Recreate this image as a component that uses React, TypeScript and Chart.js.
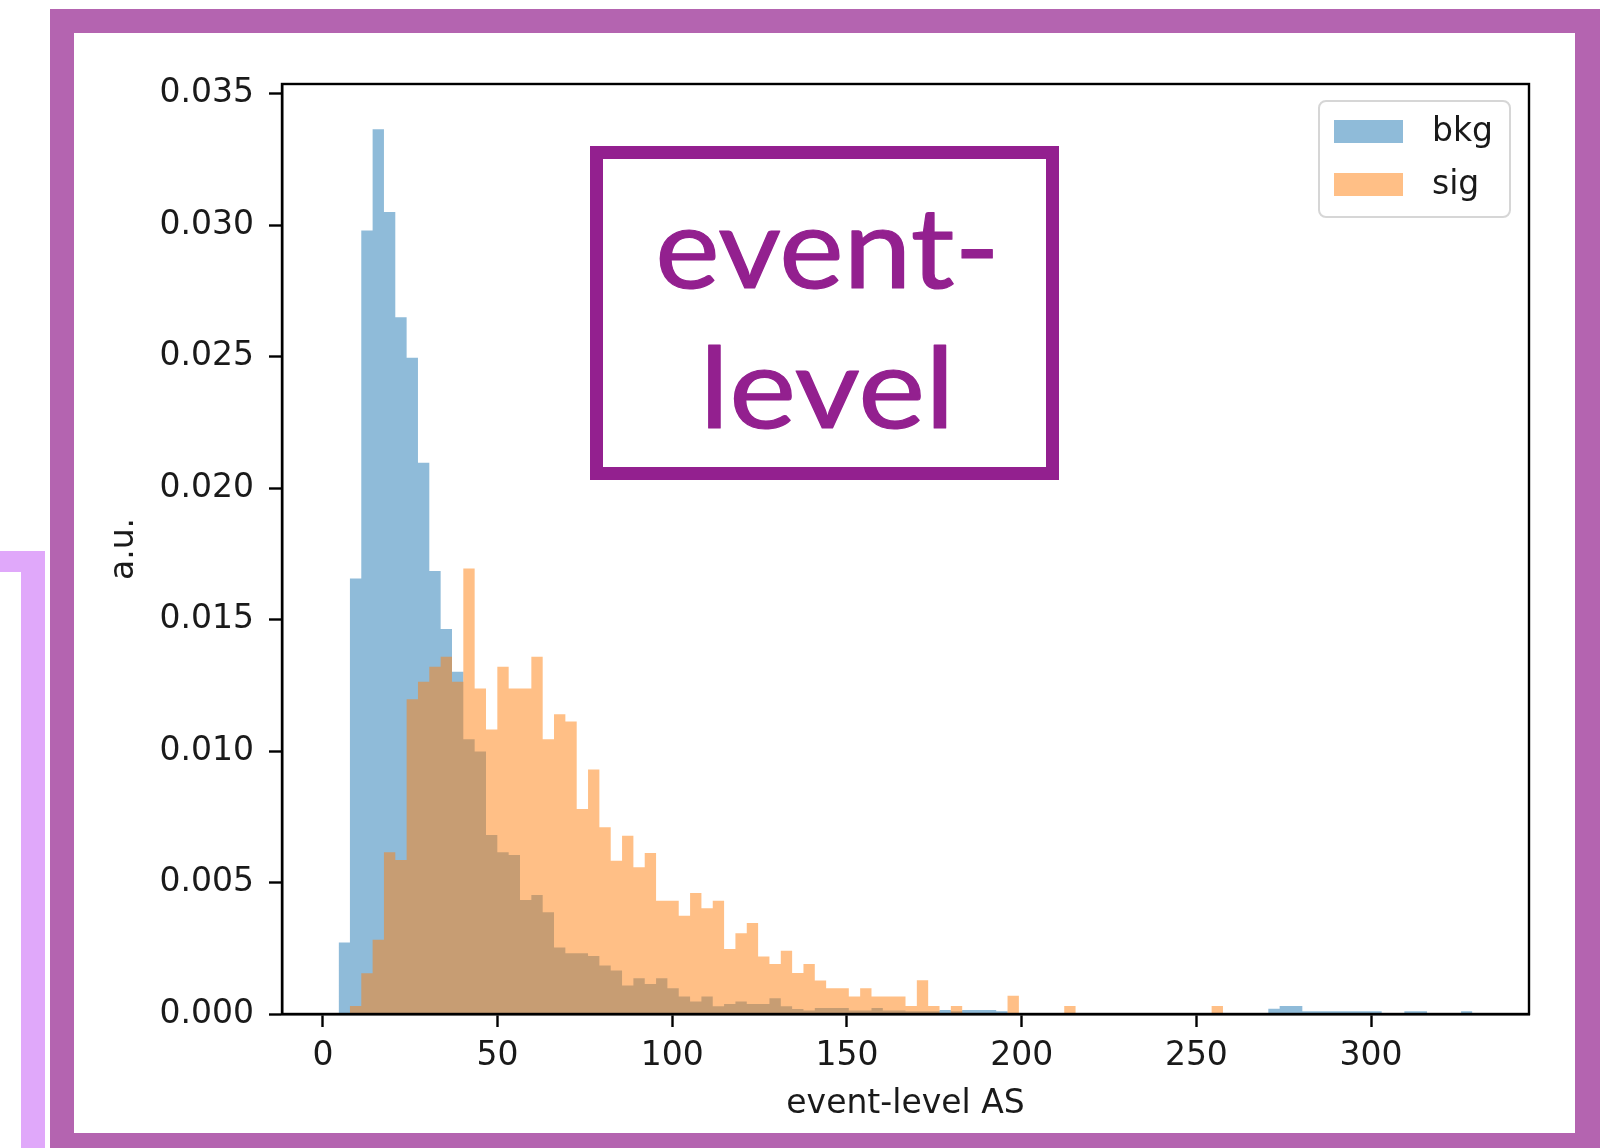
import React, { useEffect, useRef } from 'react';
import { Chart, registerables } from 'chart.js';

Chart.register(...registerables);

// ---- data ----
const BIN_START = 4.5;
const BIN_WIDTH = 3.245;
const seriesLabels = ['bkg', 'sig'];
const xTickValues = [0, 50, 100, 150, 200, 250, 300];
const yTickValues = [0, 0.005, 0.01, 0.015, 0.02, 0.025, 0.03, 0.035];
const xTitle = 'event-level AS';
const yTitle = 'a.u.';
const annotationLines = ['event-', 'level'];

const bkgValues = [
  0.00272, 0.01656, 0.0298, 0.03365, 0.0305, 0.0265, 0.02496, 0.02097, 0.01685, 0.01464,
  0.01302, 0.01045, 0.00998, 0.00681, 0.00615, 0.00605, 0.00434, 0.00453, 0.00387, 0.00253,
  0.00231, 0.00231, 0.00221, 0.00184, 0.00165, 0.00108, 0.00136, 0.00114, 0.00136, 0.00098,
  0.00067, 0.00048, 0.00067, 0.00029, 0.00038, 0.00048, 0.00038, 0.00038, 0.0006, 0.00029,
  0.00019, 0.00013, 0.00023, 0.00023, 0.00023, 0.00013, 0.00013, 0.00023, 0.00013, 0.00013,
  0.0001, 0.0001, 0.0001, 0.00015, 0.0001, 0.00015, 0.00015, 0.00015, 0.0001, 0,
  0, 0, 0, 0, 0, 0, 0, 0, 0, 0,
  0, 0, 0, 0, 0, 0, 0, 0, 0, 0,
  0, 0, 0.0002, 0.0003, 0.0003, 0.0001, 0.0001, 0.0001, 0.0001, 0.0001,
  0.0001, 0.0001, 0, 0, 0.0001, 0.0001, 0, 0, 0, 0.0001,
];

const sigValues = [
  0, 0.0003, 0.00155, 0.00282, 0.00615, 0.00586, 0.01197, 0.01264, 0.01321, 0.01359,
  0.01264, 0.01694, 0.01238, 0.01082, 0.01321, 0.01238, 0.01238, 0.01359, 0.01045, 0.0114,
  0.01112, 0.0078, 0.0093, 0.0071, 0.00583, 0.00678, 0.00558, 0.00612, 0.00431, 0.00431,
  0.00374, 0.0046, 0.00402, 0.00431, 0.00247, 0.00307, 0.00346, 0.00219, 0.0019, 0.00241,
  0.00156, 0.0019, 0.00127, 0.00098, 0.00098, 0.00067, 0.00098, 0.00067, 0.00067, 0.00067,
  0.0003, 0.00128, 0.0003, 0, 0.0003, 0, 0, 0, 0, 0.00069,
  0, 0, 0, 0, 0.0003, 0, 0, 0, 0, 0,
  0, 0, 0, 0, 0, 0, 0, 0.0003, 0, 0,
  0, 0, 0, 0, 0, 0, 0, 0, 0, 0,
  0, 0, 0, 0, 0, 0, 0, 0, 0, 0,
];

// histogram points at bin edges (stepped line, held value to next edge)
function toPoints(values: number[]) {
  const pts = values.map((v, i) => ({ x: BIN_START + BIN_WIDTH * i, y: v }));
  pts.push({ x: BIN_START + BIN_WIDTH * values.length, y: 0 });
  return pts;
}

const FONT = 'DejaVu Sans';
const TEXT = '#1a1a1a';
const PURPLE_FRAME = '#b464b0';
const LILAC = '#e0a8fa';
const ANNOT = '#93208f';

const decorPlugin = {
  id: 'decor',
  beforeDraw(chart: any) {
    const ctx = chart.ctx;
    const W = chart.width, H = chart.height;
    ctx.save();
    ctx.fillStyle = '#ffffff';
    ctx.fillRect(0, 0, W, H);
    // lilac corner of neighbouring frame
    ctx.fillStyle = LILAC;
    ctx.fillRect(21, 551, 24, H - 551);
    ctx.fillRect(0, 551, 45, 21);
    // purple frame
    ctx.fillStyle = PURPLE_FRAME;
    ctx.fillRect(50, 9, 1550, 24);
    ctx.fillRect(50, 9, 24, H - 9);
    ctx.fillRect(1575, 9, 25, H - 9);
    ctx.fillRect(50, 1133, 1550, H - 1133);
    ctx.restore();
  },
  afterDraw(chart: any) {
    const ctx = chart.ctx;
    const { left, right, top, bottom } = chart.chartArea;
    ctx.save();
    // axes box (spines)
    ctx.strokeStyle = '#000';
    ctx.lineWidth = 2.4;
    ctx.strokeRect(left, top, right - left, bottom - top);

    // legend
    const lx = 1319, ly = 101, lw = 191, lh = 116, r = 7;
    ctx.beginPath();
    ctx.moveTo(lx + r, ly);
    ctx.arcTo(lx + lw, ly, lx + lw, ly + lh, r);
    ctx.arcTo(lx + lw, ly + lh, lx, ly + lh, r);
    ctx.arcTo(lx, ly + lh, lx, ly, r);
    ctx.arcTo(lx, ly, lx + lw, ly, r);
    ctx.closePath();
    ctx.fillStyle = 'rgba(255,255,255,0.8)';
    ctx.fill();
    ctx.strokeStyle = '#d6d6d6';
    ctx.lineWidth = 2;
    ctx.stroke();
    const ds = chart.data.datasets;
    ctx.font = `33px "${FONT}"`;
    ctx.textBaseline = 'middle';
    ctx.textAlign = 'left';
    ds.forEach((d: any, i: number) => {
      const y0 = 120 + i * 53;
      ctx.fillStyle = d.backgroundColor;
      ctx.fillRect(1334, y0, 69, 23);
      ctx.fillStyle = TEXT;
      ctx.fillText(d.label, 1432, y0 + 12);
    });

    // annotation box
    ctx.strokeStyle = ANNOT;
    ctx.lineWidth = 13;
    ctx.strokeRect(596.5, 152.5, 456, 321);
    ctx.fillStyle = ANNOT;
    ctx.font = `normal 112px Lato`;
    ctx.textBaseline = 'alphabetic';
    ctx.lineJoin = 'round';
    ctx.lineCap = 'round';
    ctx.lineWidth = 1.2;
    const fit = (text: string, x0: number, x1: number, base: number) => {
      const m = ctx.measureText(text);
      const ink = m.actualBoundingBoxLeft + m.actualBoundingBoxRight + 1;
      const sx = (x1 - x0) / ink;
      ctx.save();
      ctx.translate(x0, base);
      ctx.scale(sx, 1);
      ctx.fillText(text, m.actualBoundingBoxLeft + 0.5, 0);
      ctx.strokeText(text, m.actualBoundingBoxLeft + 0.5, 0);
      ctx.restore();
    };
    fit(annotationLines[0], 659, 993, 288);
    fit(annotationLines[1], 708, 947, 428);
    ctx.restore();
  },
};

export default function App() {
  const ref = useRef<HTMLCanvasElement>(null);
  useEffect(() => {
    const canvas = ref.current;
    if (!canvas) return;
    const chart = new Chart(canvas, {
      type: 'line',
      data: {
        datasets: [
          {
            label: seriesLabels[0],
            data: toPoints(bkgValues),
            stepped: true,
            fill: 'origin',
            backgroundColor: 'rgba(31,119,180,0.5)',
            borderColor: 'rgba(0,0,0,0)',
            borderWidth: 0,
            pointRadius: 0,
            order: 2,
          },
          {
            label: seriesLabels[1],
            data: toPoints(sigValues),
            stepped: true,
            fill: 'origin',
            backgroundColor: 'rgba(255,127,14,0.5)',
            borderColor: 'rgba(0,0,0,0)',
            borderWidth: 0,
            pointRadius: 0,
            order: 1,
          },
        ],
      },
      options: {
        animation: false,
        responsive: false,
        devicePixelRatio: 1,
        layout: { padding: { left: 105, top: 84, right: 86, bottom: 24 } },
        plugins: { legend: { display: false }, tooltip: { enabled: false } },
        scales: {
          x: {
            type: 'linear',
            min: -11.7,
            max: 345.2,
            afterFit: (s: any) => { s.height = 110; },
            afterBuildTicks: (s: any) => { s.ticks = xTickValues.map((v) => ({ value: v })); },
            ticks: {
              font: { family: FONT, size: 33 },
              color: TEXT,
              padding: 10,
              maxRotation: 0,
              autoSkip: false,
              callback: (v: any) => String(v),
            },
            grid: { display: true, drawOnChartArea: false, drawTicks: true, tickLength: 13, tickWidth: 2.4, tickColor: '#000' },
            border: { display: true, color: '#000', width: 2.4 },
            title: { display: true, text: xTitle, font: { family: FONT, size: 33 }, color: TEXT, padding: 0 },
          },
          y: {
            type: 'linear',
            min: 0,
            max: 0.03537,
            afterFit: (s: any) => { s.width = 177; },
            afterBuildTicks: (s: any) => { s.ticks = yTickValues.map((v) => ({ value: v })); },
            ticks: {
              font: { family: FONT, size: 33 },
              color: TEXT,
              padding: 15,
              autoSkip: false,
              callback: (v: any) => Number(v).toFixed(3),
            },
            grid: { display: true, drawOnChartArea: false, drawTicks: true, tickLength: 13, tickWidth: 2.4, tickColor: '#000' },
            border: { display: true, color: '#000', width: 2.4 },
            title: { display: true, text: yTitle, font: { family: FONT, size: 33 }, color: TEXT, padding: 0 },
          },
        },
      },
      plugins: [decorPlugin],
    } as any);
    return () => chart.destroy();
  }, []);
  return (
    <div style={{ position: 'absolute', left: 0, top: 0, width: 1615, height: 1148, overflow: 'hidden' }}>
      <canvas ref={ref} width={1615} height={1148} style={{ display: 'block', width: 1615, height: 1148 }} />
    </div>
  );
}
